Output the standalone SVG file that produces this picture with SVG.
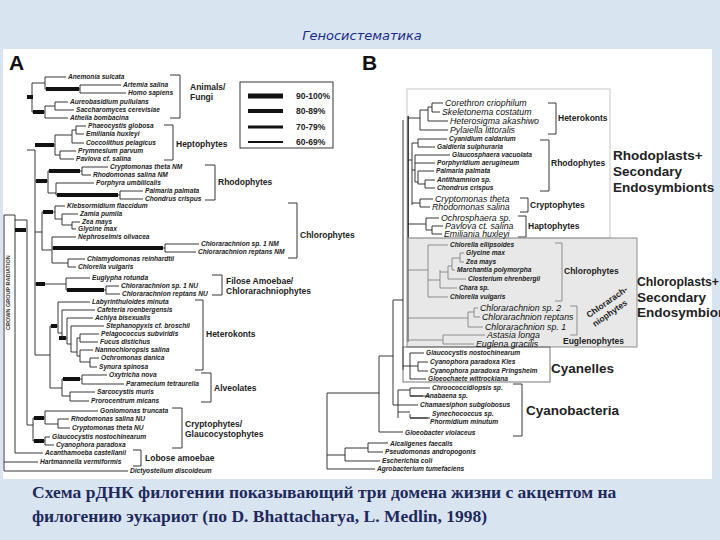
<svg xmlns="http://www.w3.org/2000/svg" width="720" height="540" viewBox="0 0 720 540">
<style>
.t{font-family:"Liberation Sans",Arial,sans-serif;font-style:italic;font-weight:bold;font-size:6.6px;fill:#222}
.tb{font-family:"Liberation Sans",Arial,sans-serif;font-style:italic;font-size:8.8px;fill:#111}
.g{font-family:"Liberation Sans",Arial,sans-serif;font-weight:bold;font-size:8.5px;fill:#222}
.G{font-family:"Liberation Sans",Arial,sans-serif;font-weight:bold;font-size:13.5px;fill:#222}
.L{font-family:"Liberation Sans",Arial,sans-serif;font-weight:bold;font-size:21px;fill:#111}
.ln{fill:none;stroke:#222;stroke-width:0.9}
.th{fill:none;stroke:#111;stroke-width:4}
.cap{font-family:"Liberation Serif","Times New Roman",serif;font-weight:bold;font-size:17.5px;fill:#1e2a5c}
</style>
<rect width="720" height="540" fill="#d9e4f1"/>
<rect x="3" y="49" width="709" height="430" fill="#fff"/>
<text x="362" y="40" text-anchor="middle" font-family="DejaVu Sans,sans-serif" font-style="italic" font-size="13" fill="#1a2a8a">Геносистематика</text>
<text class="L" x="9" y="70">A</text>
<text class="L" x="362" y="70">B</text>

<g id="legend">
<rect x="240" y="82" width="93" height="66" fill="#fff" stroke="#222" stroke-width="0.9"/>
<line x1="248" y1="96" x2="283" y2="96" stroke="#111" stroke-width="5"/>
<line x1="248" y1="111" x2="283" y2="111" stroke="#111" stroke-width="4"/>
<line x1="248" y1="127" x2="283" y2="127" stroke="#111" stroke-width="3"/>
<line x1="248" y1="142" x2="283" y2="142" stroke="#111" stroke-width="2"/>
<text class="g" x="296" y="99">90-100%</text>
<text class="g" x="296" y="114">80-89%</text>
<text class="g" x="296" y="130">70-79%</text>
<text class="g" x="296" y="145">60-69%</text>
</g>

<g id="connectors">
<path class="ln" d="M4 215V471H128M4 462H38M4 215H15V453H43M15 220H27V425M27 97H32M32 83V112M32 83H45M45 77V89M45 77H66M45 89H80M80 85V93M80 85H121M80 93H126M32 112H45M45 106V118M45 106H55M55 102V110M55 102H68M55 110H74M45 118H68"/>
<path class="ln" d="M27 150H35V355M35 145H55M55 135V155M55 135H72M72 130V143M72 130H76M76 126V134M76 126H86M76 134H84M72 143H84M55 155H60M60 151V159M60 151H76M60 159H74"/>
<path class="ln" d="M35 181H48M48 171V193M48 171H82M82 167V175M82 167H108M82 175H91M48 193H56M56 183V195M56 183H94M56 195H120M120 191V199M120 191H143M120 199H143"/>
<path class="ln" d="M35 232H42M42 212V250M42 212H55M55 206V219M55 206H65M55 219H62M62 214V225M62 214H78M62 225H72M72 222V229M72 222H80M72 229H76M42 250H52M52 237V263M52 237H76M52 248H165M165 244V252M165 244H199M165 252H196M52 263H68M68 259V267M68 259H85M68 267H76"/>
<path class="ln" d="M35 284H66M66 278V290M66 278H90M66 290H106M106 286V294M106 286H119M106 294H120"/>
<path class="ln" d="M35 355H50M50 326V388M50 326H58M58 302V333M58 302H90M58 333H62M62 310V338M62 310H95M62 338H67M67 318V344M67 318H93M67 344H71M71 326V352M71 326H104M71 352H77M77 338V356M77 338H80M80 334V342M80 334H99M80 342H98M77 356H80M80 350V362M80 350H93M80 362H90M90 358V367M90 358H99M90 367H97M50 388H62M62 379V396M62 379H82M82 375V384M82 375H107M82 384H124M62 396H70M70 392V401M70 392H95M70 401H89"/>
<path class="ln" d="M27 425H33M33 418V441M33 418H45M45 411V424M45 411H98M45 424H58M58 419V428M58 419H69M58 428H70M33 441H45M45 437V445M45 437H50M45 445H54"/>
<path class="th" d="M27 97H33M46 89H79M33 112H44M35 145H54M49 171H80M57 195H118M36 181H47M53 248H163M36 284H45M67 290H104M51 326H57M63 379H80M34 418H44M34 441H44M15 230H26M43 212H53M59 338H66"/>
<path class="ln" d="M170 75H180V118H170M164 125H173V160H164M205 165H215V200H205M288 203H297V258H288M212 275H222V295H212M195 300H203V370H195M201 373H211V402H201M172 408H182V448H172M133 450H141V466H133"/>
<path class="ln" d="M327 393V469H375M327 455H345M345 448V461H380M345 448H368M368 443V452H383M368 443H388M327 393H379M379 356V432H403M379 356H393M393 300V405M393 405H398M398 390V418M398 390H410M410 388V396H430M410 388H430M410 396H423M398 405H418M398 412H410M410 414V418H430M410 418H428M393 300H403M403 120V370"/>
<path fill="none" stroke="#111" stroke-width="1.6" d="M408 116V342"/>
<path class="ln" d="M408 118H420M420 110V130M420 130H448M420 110H428M428 107V121M428 121H448M428 107H432M432 103V112M432 103H443M432 112H440M408 160H412M412 143V205M412 143H418M418 139V147M418 139H447M418 147H435M412 170H415M415 155V182M415 155H450M415 163H435M415 182H418M418 171V184M418 171H434M418 184H425M425 180V188M425 180H435M425 188H435M412 203H420M420 199V207M420 199H433M420 207H430M408 224H426M426 218V230M426 218H439M426 230H432M432 226V234M432 226H443M432 234H442"/>
<path class="ln" d="M408 270H428M428 245V297M428 245H448M428 297H448M428 280H440M440 270V288M440 288H457M440 272H448M448 266V279M448 279H466M448 266H452M452 258V270M452 270H455M452 258H460M460 253V262M460 253H464M460 262H464M408 318H468M468 312V327M468 327H483M468 312H474M474 308V317M474 308H478M474 317H480M408 340H443M443 335V344M443 335H485M443 344H474M403 366H410M410 353V379M410 353H424M410 379H426M410 366H418M418 362V371M418 362H428M418 371H428"/>
<path class="ln" d="M548 103H556V134H548M540 140H549V191H540M520 198H528V212H520M518 216H526V237H518M555 243H562V301H555M570 306H577V335H570M513 384H522V436H513"/>
</g>

<g id="boxes">
<rect x="407" y="89" width="203" height="149" fill="none" stroke="#bbb" stroke-width="0.8"/>
<rect x="407" y="238" width="230" height="109" fill="#d6d6d6" fill-opacity="0.55" stroke="#777" stroke-width="0.8"/>
<rect x="403" y="347" width="147" height="35" fill="none" stroke="#555" stroke-width="0.8"/>
</g>

<g id="labelsA">
<text class="t" x="68" y="79">Anemonia sulcata</text>
<text class="t" x="123" y="87">Artemia salina</text>
<text class="t" x="128" y="95">Homo sapiens</text>
<text class="t" x="70" y="104">Aureobasidium pullulans</text>
<text class="t" x="76" y="112">Saccharomyces cerevisiae</text>
<text class="t" x="70" y="120">Athelia bombacina</text>
<text class="t" x="88" y="128">Phaeocystis globosa</text>
<text class="t" x="86" y="136">Emiliania huxleyi</text>
<text class="t" x="86" y="145">Coccolithus pelagicus</text>
<text class="t" x="78" y="153">Prymnesium parvum</text>
<text class="t" x="76" y="161">Pavlova cf. salina</text>
<text class="t" x="110" y="169">Cryptomonas theta NM</text>
<text class="t" x="93" y="177">Rhodomonas salina NM</text>
<text class="t" x="96" y="185">Porphyra umbilicalis</text>
<text class="t" x="145" y="193">Palmaria palmata</text>
<text class="t" x="145" y="201">Chondrus crispus</text>
<text class="t" x="67" y="208">Klebsormidium flaccidum</text>
<text class="t" x="80" y="216">Zamia pumila</text>
<text class="t" x="82" y="224">Zea mays</text>
<text class="t" x="78" y="231">Glycine max</text>
<text class="t" x="78" y="239">Nephroselmis olivacea</text>
<text class="t" x="201" y="246">Chlorarachnion sp. 1 NM</text>
<text class="t" x="198" y="254">Chlorarachnion reptans NM</text>
<text class="t" x="87" y="261">Chlamydomonas reinhardtii</text>
<text class="t" x="78" y="269">Chlorella vulgaris</text>
<text class="t" x="92" y="280">Euglypha rotunda</text>
<text class="t" x="121" y="288">Chlorarachnion sp. 1 NU</text>
<text class="t" x="122" y="296">Chlorarachnion reptans NU</text>
<text class="t" x="92" y="304">Labyrinthuloides minuta</text>
<text class="t" x="97" y="312">Cafeteria roenbergensis</text>
<text class="t" x="95" y="320">Achlya bisexualis</text>
<text class="t" x="106" y="328">Stephanopyxis cf. broschii</text>
<text class="t" x="101" y="336">Pelagococcus subviridis</text>
<text class="t" x="100" y="344">Fucus distichus</text>
<text class="t" x="95" y="352">Nannochloropsis salina</text>
<text class="t" x="101" y="360">Ochromonas danica</text>
<text class="t" x="99" y="369">Synura spinosa</text>
<text class="t" x="109" y="377">Oxytricha nova</text>
<text class="t" x="126" y="386">Paramecium tetraurelia</text>
<text class="t" x="97" y="394">Sarcocystis muris</text>
<text class="t" x="91" y="403">Prorocentrum micans</text>
<text class="t" x="100" y="413">Goniomonas truncata</text>
<text class="t" x="71" y="421">Rhodomonas salina NU</text>
<text class="t" x="72" y="430">Cryptomonas theta NU</text>
<text class="t" x="52" y="439">Glaucocystis nostochinearum</text>
<text class="t" x="56" y="447">Cyanophora paradoxa</text>
<text class="t" x="45" y="455">Acanthamoeba castellanii</text>
<text class="t" x="40" y="464">Hartmannella vermiformis</text>
<text class="t" x="130" y="473">Dictyostelium discoideum</text>
<text class="g" x="190" y="90">Animals/</text>
<text class="g" x="190" y="100">Fungi</text>
<text class="g" x="176" y="147">Heptophytes</text>
<text class="g" x="218" y="185">Rhodophytes</text>
<text class="g" x="300" y="238">Chlorophytes</text>
<text class="g" x="226" y="284">Filose Amoebae/</text>
<text class="g" x="226" y="294">Chlorarachniophytes</text>
<text class="g" x="206" y="337">Heterokonts</text>
<text class="g" x="214" y="391">Alveolates</text>
<text class="g" x="185" y="427">Cryptophytes/</text>
<text class="g" x="185" y="437">Glaucocystophytes</text>
<text class="g" x="145" y="461">Lobose amoebae</text>
<text transform="translate(10,330) rotate(-90)" font-family="Liberation Sans,sans-serif" font-weight="bold" font-size="5.5" fill="#333">CROWN GROUP RADIATION</text>
</g>

<g id="labelsB">
<text class="tb" x="445" y="106">Corethron criophilum</text>
<text class="tb" x="442" y="115">Skeletonema costatum</text>
<text class="tb" x="450" y="124">Heterosigma akashiwo</text>
<text class="tb" x="450" y="133">Pylaiella littoralis</text>
<text class="t" x="449" y="141">Cyanidium caldarium</text>
<text class="t" x="437" y="149">Galdieria sulphuraria</text>
<text class="t" x="452" y="157">Glaucosphaera vacuolata</text>
<text class="t" x="437" y="165">Porphyridium aerugineum</text>
<text class="t" x="436" y="173">Palmaria palmata</text>
<text class="t" x="437" y="182">Antithamnion sp.</text>
<text class="t" x="437" y="190">Chondrus crispus</text>
<text class="tb" x="435" y="202">Cryptomonas theta</text>
<text class="tb" x="432" y="210">Rhodomonas salina</text>
<text class="tb" x="441" y="221">Ochrosphaera sp.</text>
<text class="tb" x="445" y="229">Pavlova ct. salina</text>
<text class="tb" x="444" y="237">Emiliania huxleyi</text>
<text class="g" x="558" y="121">Heterokonts</text>
<text class="g" x="551" y="166">Rhodophytes</text>
<text class="g" x="530" y="208">Cryptophytes</text>
<text class="g" x="528" y="229">Haptophytes</text>
<text class="G" x="613" y="160">Rhodoplasts+</text>
<text class="G" x="613" y="176">Secondary</text>
<text class="G" x="613" y="192">Endosymbionts</text>
<text class="t" x="450" y="247">Chlorella ellipsoides</text>
<text class="t" x="466" y="255">Glycine max</text>
<text class="t" x="466" y="264">Zea mays</text>
<text class="t" x="457" y="272">Marchantia polymorpha</text>
<text class="t" x="468" y="281">Closterium ehrenbergii</text>
<text class="t" x="459" y="290">Chara sp.</text>
<text class="t" x="450" y="299">Chlorella vulgaris</text>
<text class="tb" x="480" y="311">Chlorarachnion  sp. 2</text>
<text class="tb" x="482" y="320">Chlorarachnion reptans</text>
<text class="tb" x="485" y="330">Chlorarachnion  sp. 1</text>
<text class="tb" x="487" y="338">Astasia longa</text>
<text class="tb" x="476" y="347">Euglena gracilis</text>
<text class="g" x="564" y="274">Chlorophytes</text>
<text class="g" font-size="7.5" transform="translate(589,318) rotate(-35)">Chlorarach-</text>
<text class="g" font-size="7.5" transform="translate(595,327) rotate(-35)">niophytes</text>
<text class="g" x="563" y="344">Euglenophytes</text>
<text class="G" x="637" y="286" textLength="82" lengthAdjust="spacingAndGlyphs">Chloroplasts+</text>
<text class="G" x="637" y="302">Secondary</text>
<text class="G" x="637" y="317">Endosymbionts</text>
<text class="t" x="426" y="355">Glaucocystis nostochinearum</text>
<text class="t" x="430" y="364">Cyanophora paradoxa  Kies</text>
<text class="t" x="430" y="373">Cyanophora paradoxa  Pringsheim</text>
<text class="t" x="428" y="381">Gloeochaete wittrockiana</text>
<text class="G" x="551" y="373">Cyanelles</text>
<text class="t" x="432" y="390">Chroococcidiopsis  sp.</text>
<text class="t" x="425" y="398">Anabaena  sp.</text>
<text class="t" x="420" y="407">Chamaesiphon subglobosus</text>
<text class="t" x="432" y="416">Synechococcus  sp.</text>
<text class="t" x="430" y="424">Phormidium minutum</text>
<text class="t" x="405" y="435">Gloeobacter violaceus</text>
<text class="G" x="526" y="415">Cyanobacteria</text>
<text class="t" x="390" y="446">Alcaligenes faecalis</text>
<text class="t" x="385" y="454">Pseudomonas andropogonis</text>
<text class="t" x="382" y="463">Escherichia coli</text>
<text class="t" x="377" y="471">Agrobacterium tumefaciens</text>
</g>

<g id="caption">
<text class="cap" x="32" y="498">Схема  рДНК филогении показывающий три домена жизни с акцентом на</text>
<text class="cap" x="32" y="522">филогению эукариот (по D. Bhattacharya, L. Medlin, 1998)</text>
</g>
</svg>
